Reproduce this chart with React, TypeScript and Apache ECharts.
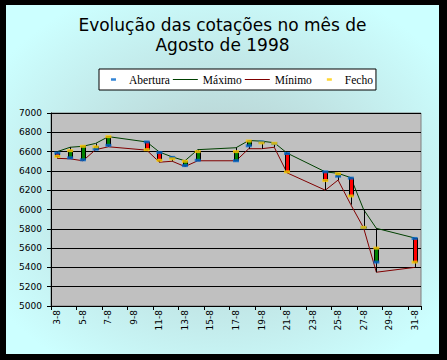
import React, { useEffect, useRef } from 'react';
import * as echarts from 'echarts';

const categories = [
  '3-8', '4-8', '5-8', '6-8', '7-8', '8-8', '9-8', '10-8', '11-8', '12-8',
  '13-8', '14-8', '15-8', '16-8', '17-8', '18-8', '19-8', '20-8', '21-8', '22-8',
  '23-8', '24-8', '25-8', '26-8', '27-8', '28-8', '29-8', '30-8', '31-8',
];

const tradingDays = [
  '3-8', '4-8', '5-8', '6-8', '7-8', '10-8', '11-8', '12-8', '13-8', '14-8',
  '17-8', '18-8', '19-8', '20-8', '21-8', '24-8', '25-8', '26-8', '27-8', '28-8', '31-8',
];

const openValues = [6585, 6535, 6515, 6625, 6665, 6700, 6590, 6540, 6455, 6510, 6505, 6660, 6700, 6683, 6580, 6390, 6345, 6325, 5812, 5455, 5700];
const highValues = [6600, 6645, 6655, 6685, 6755, 6700, 6595, 6545, 6505, 6620, 6640, 6715, 6708, 6692, 6585, 6390, 6375, 6330, 6000, 5805, 5705];
const lowValues = [6530, 6525, 6505, 6620, 6650, 6615, 6490, 6500, 6445, 6505, 6505, 6630, 6630, 6645, 6380, 6200, 6305, 6050, 5810, 5350, 5400];
const closeValues = [6550, 6610, 6655, 6650, 6755, 6620, 6510, 6525, 6500, 6600, 6600, 6710, 6690, 6686, 6390, 6300, 6370, 6140, 5815, 5600, 5455];

const yTicks = { min: 5000, max: 7000, interval: 200 };

const dashIcon =
  'path://M0,0h0.01v0.01h-0.01zM25,8h0.01v0.01h-0.01zM12,2.75h5v2.5h-5z';
const lineIcon =
  'path://M0,0h0.01v0.01h-0.01zM25,8h0.01v0.01h-0.01zM0,3.5h25v1h-25z';

export default function App() {
  const ref = useRef<HTMLDivElement>(null);

  useEffect(() => {
    const el = ref.current;
    if (!el) return;
    const chart = echarts.init(el, null, { renderer: 'svg' });

    const byCategory = (vals: number[]) =>
      categories.map((c) => {
        const i = tradingDays.indexOf(c);
        return i < 0 ? null : vals[i];
      });

    const candleData = tradingDays.map((d, i) => [
      categories.indexOf(d),
      openValues[i],
      closeValues[i],
      lowValues[i],
      highValues[i],
    ]);

    const axisFont = { fontFamily: 'DejaVu Sans', fontSize: 9, color: '#000' };

    chart.setOption({
      animation: false,
      backgroundColor: new echarts.graphic.RadialGradient(0.5, 0.52, 0.62, [
        { offset: 0, color: '#b4c8c8' },
        { offset: 1, color: '#ccffff' },
      ]),
      title: {
        text: 'Evolução das cotações no mês de\nAgosto de 1998',
        left: 'center',
        top: 10,
        padding: 0,
        textStyle: {
          fontFamily: 'DejaVu Sans',
          fontSize: 17,
          fontWeight: 'normal',
          lineHeight: 20,
          color: '#000',
        },
      },
      legend: {
        left: 93,
        top: 64,
        padding: [4, 3, 4, 0],
        itemGap: 3,
        itemWidth: 25,
        itemHeight: 8,
        backgroundColor: '#fff',
        borderColor: '#000',
        borderWidth: 1,
        borderRadius: 0,
        textStyle: { fontFamily: 'Liberation Serif', fontSize: 11.5, color: '#000', lineHeight: 13 },
        data: [
          { name: 'Abertura', icon: dashIcon },
          { name: 'Máximo', icon: lineIcon },
          { name: 'Mínimo', icon: lineIcon },
          { name: 'Fecho', icon: dashIcon },
        ],
      },
      grid: {
        left: 45,
        top: 108,
        right: 18,
        bottom: 48,
        show: true,
        backgroundColor: '#c0c0c0',
        borderColor: '#808080',
        borderWidth: 1,
      },
      xAxis: {
        type: 'category',
        data: categories,
        boundaryGap: true,
        axisLine: { lineStyle: { color: '#000', width: 1 } },
        axisTick: { show: true, interval: 1, length: 4, lineStyle: { color: '#000' } },
        axisLabel: { ...axisFont, interval: 1, rotate: 90, margin: 4 },
        splitLine: { show: false },
      },
      yAxis: {
        type: 'value',
        min: yTicks.min,
        max: yTicks.max,
        interval: yTicks.interval,
        axisLine: { show: true, lineStyle: { color: '#000', width: 1 } },
        axisTick: { show: true, length: 4, lineStyle: { color: '#000' } },
        axisLabel: { ...axisFont, margin: 9, formatter: (v: number) => String(v) },
        splitLine: { show: true, lineStyle: { color: '#000', width: 1 } },
      },
      series: [
        {
          name: 'Máximo',
          type: 'line',
          data: byCategory(highValues),
          connectNulls: true,
          symbol: 'none',
          z: 2,
          lineStyle: { color: '#004000', width: 1 },
          itemStyle: { color: '#004000' },
        },
        {
          name: 'Mínimo',
          type: 'line',
          data: byCategory(lowValues),
          connectNulls: true,
          symbol: 'none',
          z: 2,
          lineStyle: { color: '#800000', width: 1 },
          itemStyle: { color: '#800000' },
        },
        {
          name: 'candles',
          type: 'custom',
          z: 3,
          data: candleData,
          encode: { x: 0, y: [1, 2, 3, 4] },
          renderItem: (params: any, api: any) => {
            const xi = api.value(0);
            const o = api.coord([xi, api.value(1)]);
            const c = api.coord([xi, api.value(2)]);
            const l = api.coord([xi, api.value(3)]);
            const h = api.coord([xi, api.value(4)]);
            const cx = Math.round(o[0]);
            const top = Math.min(o[1], c[1]);
            const bottom = Math.max(o[1], c[1]);
            const up = api.value(2) >= api.value(1);
            return {
              type: 'group',
              children: [
                {
                  type: 'line',
                  shape: { x1: cx + 0.5, y1: h[1], x2: cx + 0.5, y2: l[1] },
                  style: { stroke: '#000', lineWidth: 1 },
                },
                {
                  type: 'rect',
                  shape: { x: cx - 1.5, y: top, width: 4, height: Math.max(bottom - top, 0.5) },
                  style: { fill: up ? '#008000' : '#ff0000', stroke: '#000', lineWidth: 1 },
                },
              ],
            };
          },
        },
        {
          name: 'Abertura',
          type: 'scatter',
          z: 4,
          symbol: 'rect',
          symbolSize: [6, 3],
          itemStyle: { color: '#0066cc' },
          data: tradingDays.map((d, i) => [d, openValues[i]]),
        },
        {
          name: 'Fecho',
          type: 'scatter',
          z: 5,
          symbol: 'rect',
          symbolSize: [6, 3],
          itemStyle: { color: '#ffcc00' },
          data: tradingDays.map((d, i) => [d, closeValues[i]]),
        },
      ],
    });

    return () => chart.dispose();
  }, []);

  return (
    <div style={{ position: 'fixed', left: 0, top: 0, width: 447, height: 360, background: '#000' }}>
      <div ref={ref} style={{ position: 'absolute', left: 6, top: 5, width: 433, height: 349 }} />
    </div>
  );
}
